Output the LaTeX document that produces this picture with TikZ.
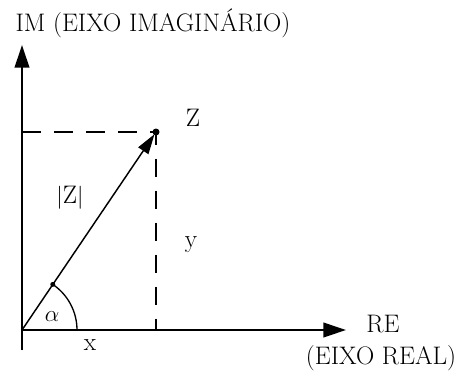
\documentclass[tikz,border=0pt]{standalone}
\usetikzlibrary{arrows.meta}
\begin{document}
\begin{tikzpicture}[x=0.75pt, y=-0.75pt,
                        axis/.style={
                            line width=1.3pt,
                            -{Triangle[length=17pt, width=11pt]}
                        },
                        vector/.style={
                            line width=1.1pt,
                            -{Triangle[length=15pt, width=9pt]},
                            shorten >=2pt
                        },
                        guide/.style={
                            line width=1pt,
                            dash pattern=on 14pt off 10pt
                        },
                        lbl/.style={
                            font=\fontsize{19}{22}\selectfont,
                            inner sep=0pt
                        }
                    ]
                    \useasboundingbox (0,0) rectangle (463,382);

                    % Origin, axis ends and the point Z
                    \coordinate (origin) at (22,330);
                    \coordinate (imfoot) at (22,350);
                    \coordinate (imtip) at (22,45);
                    \coordinate (retip) at (346,330);
                    \coordinate (zpoint) at (156,132);

                    % Axes
                    \draw[axis] (imfoot) -- (imtip);
                    \draw[axis] (origin) -- (retip);

                    % Projections of Z (dashed)
                    \draw[guide] (origin |- zpoint) -- (zpoint);
                    \draw[guide, dash phase=4pt] (zpoint) -- (zpoint |- origin);

                    % Vector |Z|
                    \draw[vector] (origin) -- (zpoint);
                    \fill (zpoint) circle (3.5);

                    % Angle alpha
                    \draw[line width=1pt] (origin) ++(0:55) arc[start angle=0, end angle=-56, radius=55]
                        coordinate (arcend);
                    \fill (arcend) circle (2.5);

                    % Labels
                    \node[lbl] (imlabel) at (153,23) {IM (EIXO IMAGINÁRIO)};
                    \node[lbl] (zlabel) at (193,118) {Z};
                    \node[lbl] (modlabel) at (70,198) {$\vert$Z$\vert$};
                    \node[lbl] (ylabel) at (191,245) {y};
                    \node[lbl] (alabel) at (52,317) {$\alpha$};
                    \node[lbl] (xlabel) at (90,345) {x};
                    \node[lbl] (relabel) at (383,324) {RE};
                    \node[lbl] (realaxis) at (381,358) {(EIXO REAL)};
                    \end{tikzpicture}
\end{document}
